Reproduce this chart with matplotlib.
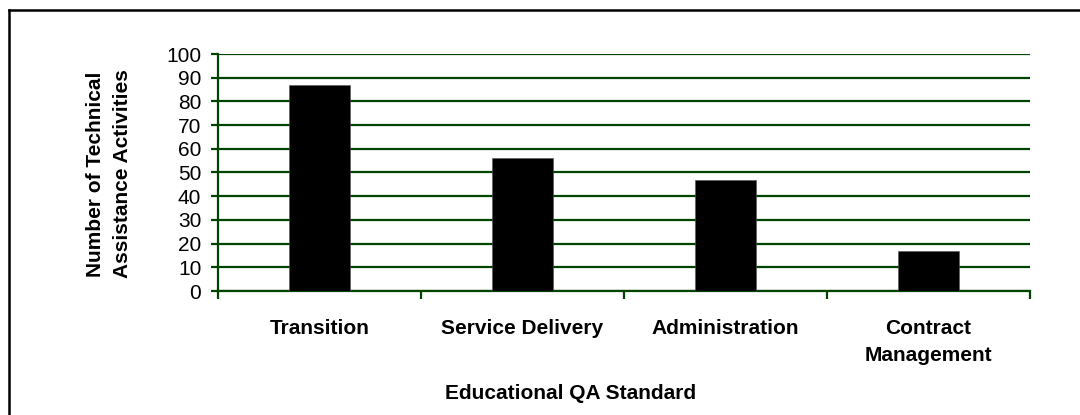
import matplotlib
matplotlib.use("Agg")
import matplotlib.pyplot as plt
from matplotlib.lines import Line2D
import numpy as np

categories = ["Transition", "Service Delivery", "Administration", "Contract\nManagement"]
values = [87, 56, 47, 17]
y_ticks = [0, 10, 20, 30, 40, 50, 60, 70, 80, 90, 100]

plt.rcParams['font.family'] = ['Liberation Sans', 'DejaVu Sans']
green = "#004400"

fig = plt.figure(figsize=(10.8, 4.15), dpi=100)
ax = fig.add_axes([218/1080, 1-291/415, (1030-218)/1080, (291-54)/415])

x = np.arange(len(categories))
ax.bar(x, values, width=0.305, color="black", edgecolor="#555555", linewidth=0.4, zorder=3)

ax.set_xlim(-0.5, len(categories) - 0.5)
ax.set_ylim(0, 100)
ax.set_yticks(y_ticks)
ax.set_yticklabels([str(v) for v in y_ticks], fontsize=15)
ax.yaxis.grid(True, color=green, linewidth=1.6, zorder=0)
ax.set_axisbelow(True)

ax.set_xticks(np.arange(len(categories) + 1) - 0.5)
ax.set_xticklabels([])
ax.set_xticks(x, minor=True)
ax.set_xticklabels(categories, minor=True, fontsize=15, fontweight="bold", linespacing=1.55)
ax.tick_params(axis="x", which="minor", length=0, pad=20)
ax.tick_params(axis="x", which="major", length=6, width=1.6, color=green, direction="out")
ax.tick_params(axis="y", length=5, width=1.6, color=green, direction="out", pad=7)

for s in ["top", "right"]:
    ax.spines[s].set_visible(False)
for s in ["left", "bottom"]:
    ax.spines[s].set_color(green)
    ax.spines[s].set_linewidth(1.6)

fig.text(109/1080, 1-174/415, "Number of Technical\nAssistance Activities", rotation=90,
         ha="center", va="center", fontsize=15, fontweight="bold", multialignment="center",
         linespacing=1.55)
fig.text(571/1080, 1-393/415, "Educational QA Standard", ha="center", va="center",
         fontsize=15, fontweight="bold")

# outer frame (top and left edges visible)
fig.add_artist(Line2D([9/1080, 9/1080], [0, 1-10/415], transform=fig.transFigure, color="black", linewidth=1.8))
fig.add_artist(Line2D([9/1080, 1], [1-10/415, 1-10/415], transform=fig.transFigure, color="black", linewidth=1.8))

fig.savefig("out.png", dpi=100)
